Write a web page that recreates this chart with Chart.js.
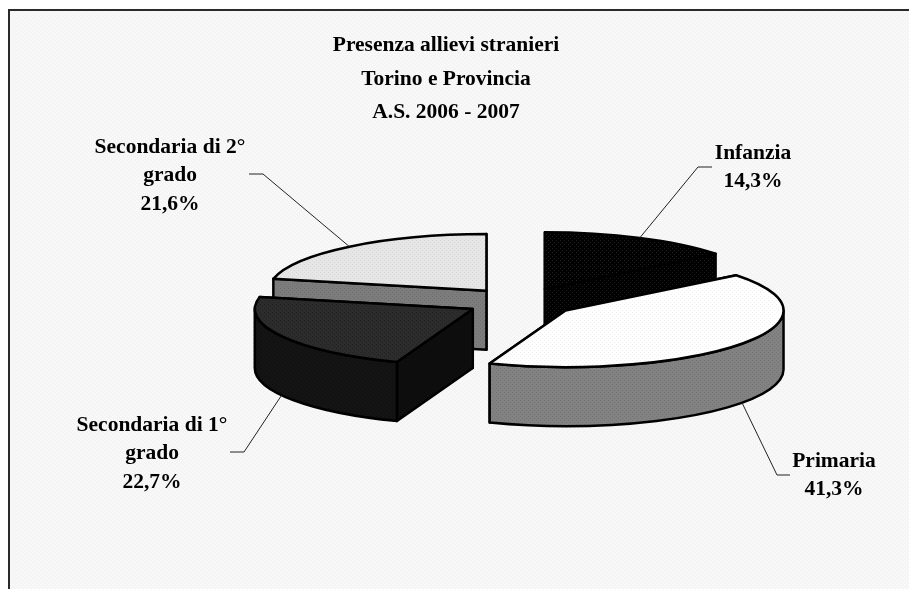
<!DOCTYPE html>
<html>
<head>
<meta charset="utf-8">
<title>Presenza allievi stranieri</title>
<script src="https://cdn.jsdelivr.net/npm/chart.js@4"></script>
<style>
  html, body { margin: 0; padding: 0; background: #fff; }
  canvas { display: block; }
</style>
</head>
<body>
<canvas id="myChart" width="909" height="589"></canvas>
<script>
// data
var categories = ['Infanzia', 'Primaria', ['Secondaria di 1°', 'grado'], ['Secondaria di 2°', 'grado']];
var values = [14.3, 41.3, 22.7, 21.6];
var titleLines = ['Presenza allievi stranieri', 'Torino e Provincia', 'A.S. 2006 - 2007'];

// look of the fake 3d pie
var pieX = 521, pieY = 302;  // centre of the pie before exploding
var radius = 218;
var tilt = 0.26;             // ellipse height / width
var depth = 59;              // wall height
var explodeX = 55, explodeY = 14.4;
var paintOrder = [3, 0, 2, 1]; // back slices first

// dotted fill, like the dither in the original
function pat(a, b) {
  var c = document.createElement('canvas');
  c.width = 4; c.height = 4;
  var x = c.getContext('2d');
  x.fillStyle = a; x.fillRect(0, 0, 4, 4);
  x.fillStyle = b; x.fillRect(0, 0, 1, 1); x.fillRect(2, 2, 1, 1);
  return x.createPattern(c, 'repeat');
}
var topFills = [pat('#000000', '#222222'), pat('#ffffff', '#f0f0f0'), pat('#2c2c2c', '#202020'), pat('#e6e6e6', '#d8d8d8')];
var wallFills = [pat('#000000', '#1c1c1c'), pat('#828282', '#747474'), pat('#141414', '#0c0c0c'), pat('#7c7c7c', '#6e6e6e')];
var sideFills = [pat('#000000', '#1c1c1c'), pat('#828282', '#747474'), pat('#0e0e0e', '#080808'), pat('#7c7c7c', '#6e6e6e')];
var paperFill = pat('#f5f5f5', '#ffffff');

// where each callout goes: elbow, end of the leader, text centre, first text line
var callouts = [
  { elbow: [698, 167], end: [712, 167], textX: 753, textY: 153, wall: false },
  { elbow: [777, 475], end: [790, 475], textX: 834, textY: 461, wall: true },
  { elbow: [244, 452], end: [230, 452], textX: 152, textY: 425, wall: true },
  { elbow: [263, 174], end: [249, 174], textX: 170, textY: 147, wall: false }
];

function fillStroke(ctx, fill) {
  ctx.fillStyle = fill;
  ctx.fill();
  ctx.stroke();
}

function drawSlice(ctx, arc, i) {
  var a0 = arc.startAngle, a1 = arc.endAngle;
  var mid = (a0 + a1) / 2;
  var ox = pieX + Math.cos(mid) * explodeX;
  var oy = pieY + Math.sin(mid) * explodeY;
  var r = arc.outerRadius, rb = r * tilt;

  ctx.lineWidth = 2.5;
  ctx.lineJoin = 'round';
  ctx.strokeStyle = '#000';

  //radial walls, the lower one goes on top
  var ends = Math.sin(a0) < Math.sin(a1) ? [a0, a1] : [a1, a0];
  ends.forEach(function(a) {
    var ex = ox + Math.cos(a) * r, ey = oy + Math.sin(a) * rb;
    ctx.beginPath();
    ctx.moveTo(ox, oy);
    ctx.lineTo(ex, ey);
    ctx.lineTo(ex, ey + depth);
    ctx.lineTo(ox, oy + depth);
    ctx.closePath();
    fillStroke(ctx, sideFills[i]);
  });

  //curved wall, only the part that faces us
  var w0 = Math.max(a0, 0), w1 = Math.min(a1, Math.PI);
  if (w0 < w1) {
    ctx.beginPath();
    ctx.ellipse(ox, oy, r, rb, 0, w0, w1, false);
    ctx.ellipse(ox, oy + depth, r, rb, 0, w1, w0, true);
    ctx.closePath();
    fillStroke(ctx, wallFills[i]);
  }

  //top face
  ctx.beginPath();
  ctx.moveTo(ox, oy);
  ctx.ellipse(ox, oy, r, rb, 0, a0, a1, false);
  ctx.closePath();
  fillStroke(ctx, arc.options.backgroundColor);
}

function drawCallout(ctx, arc, i) {
  var c = callouts[i];
  var mid = (arc.startAngle + arc.endAngle) / 2;
  var ox = pieX + Math.cos(mid) * explodeX;
  var oy = pieY + Math.sin(mid) * explodeY;
  var sx = ox + Math.cos(mid) * arc.outerRadius;
  var sy = oy + Math.sin(mid) * arc.outerRadius * tilt + (c.wall ? depth : 0);

  ctx.lineWidth = 1;
  ctx.strokeStyle = '#222';
  ctx.beginPath();
  ctx.moveTo(sx, sy);
  ctx.lineTo(c.elbow[0], c.elbow[1]);
  ctx.lineTo(c.end[0], c.end[1]);
  ctx.stroke();

  var lines = [].concat(categories[i]);
  lines.push(values[i].toFixed(1).replace('.', ',') + '%');
  ctx.fillStyle = '#000';
  ctx.font = 'bold 21.5px "Liberation Serif"';
  ctx.textAlign = 'center';
  ctx.textBaseline = 'middle';
  lines.forEach(function(t, k) {
    ctx.fillText(t, c.textX, c.textY + k * 28.5);
  });
}

var pie3d = {
  id: 'pie3d',
  beforeDraw: function(chart) {
    var ctx = chart.ctx;
    ctx.save();
    ctx.fillStyle = '#fff';
    ctx.fillRect(0, 0, 909, 589);
    ctx.fillStyle = paperFill;
    ctx.fillRect(9, 10, 900, 579);
    ctx.fillStyle = '#2a2a2a';
    ctx.fillRect(8, 9, 901, 2);
    ctx.fillRect(8, 9, 2, 580);
    ctx.restore();
  },
  // the library's flat arcs are replaced by the 3d ones below
  beforeDatasetDraw: function() { return false; },
  afterDatasetsDraw: function(chart) {
    var ctx = chart.ctx;
    var arcs = chart.getDatasetMeta(0).data;
    ctx.save();
    paintOrder.forEach(function(i) { drawSlice(ctx, arcs[i], i); });
    arcs.forEach(function(arc, i) { drawCallout(ctx, arc, i); });
    ctx.restore();
  }
};

var chart = new Chart(document.getElementById('myChart').getContext('2d'), {
  type: 'pie',
  data: {
    labels: categories,
    datasets: [{ data: values, backgroundColor: topFills, borderWidth: 0, radius: radius }]
  },
  options: {
    responsive: false,
    animation: false,
    layout: { padding: { right: 17 } },
    plugins: {
      legend: { display: false },
      tooltip: { enabled: false },
      title: {
        display: true,
        text: titleLines,
        color: '#000',
        font: { family: '"Liberation Serif"', size: 21.5, weight: 'bold', lineHeight: 1.58 },
        padding: { top: 28, bottom: 0 }
      }
    }
  },
  plugins: [pie3d]
});
</script>
</body>
</html>
